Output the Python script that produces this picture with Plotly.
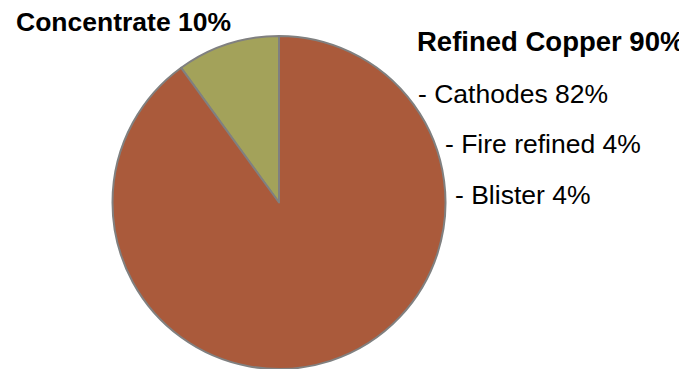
import plotly.graph_objects as go

# Share of copper exports by product form
labels = ["Concentrate", "Refined Copper"]
shares = [10, 90]
colors = ["#A3A25A", "#AA5A3B"]

# Breakdown of refined copper
refined_parts = ["Cathodes", "Fire refined", "Blister"]
refined_shares = [82, 4, 4]

W, H = 686, 369

# Start the first slice so that it ends at 12 o'clock (it sits left of the top)
start_angle = -360 * shares[0] / sum(shares)

fig = go.Figure(
    go.Pie(
        labels=labels,
        values=shares,
        sort=False,
        direction="clockwise",
        rotation=start_angle,
        textinfo="none",
        hoverinfo="label+percent",
        marker=dict(colors=colors, line=dict(color="#808080", width=2)),
        domain=dict(x=[112 / W, 446 / W], y=[0, 333 / H]),
        showlegend=False,
    )
)


def ypos(px):
    return 1 - px / H


family = "Liberation Sans, Arial, sans-serif"
font_bold = dict(family=family, size=26.5, color="#000000")
font_head = dict(family=family, size=27.5, color="#000000")
font_reg = dict(family=family, size=26.5, color="#000000")

annotations = [
    dict(x=14 / W, y=ypos(22), text=f"<b>{labels[0]} {shares[0]}%</b>", font=font_bold),
    # the heading's text box is narrower than the text, so its tail is cut off
    dict(x=415 / W, y=ypos(42), text=f"<b>{labels[1]} {shares[1]}%</b>", font=font_head,
         width=262, align="left"),
]
offsets = [(416, 94), (443, 144), (453, 195)]
for name, val, (px, py) in zip(refined_parts, refined_shares, offsets):
    annotations.append(dict(x=px / W, y=ypos(py), text=f"- {name} {val}%", font=font_reg))

for a in annotations:
    a.update(xref="paper", yref="paper", xanchor="left", yanchor="middle", showarrow=False)

fig.update_layout(
    width=W,
    height=H,
    margin=dict(l=0, r=0, t=0, b=0),
    paper_bgcolor="#FFFFFF",
    plot_bgcolor="#FFFFFF",
    annotations=annotations,
)

fig.write_html("out.html")
